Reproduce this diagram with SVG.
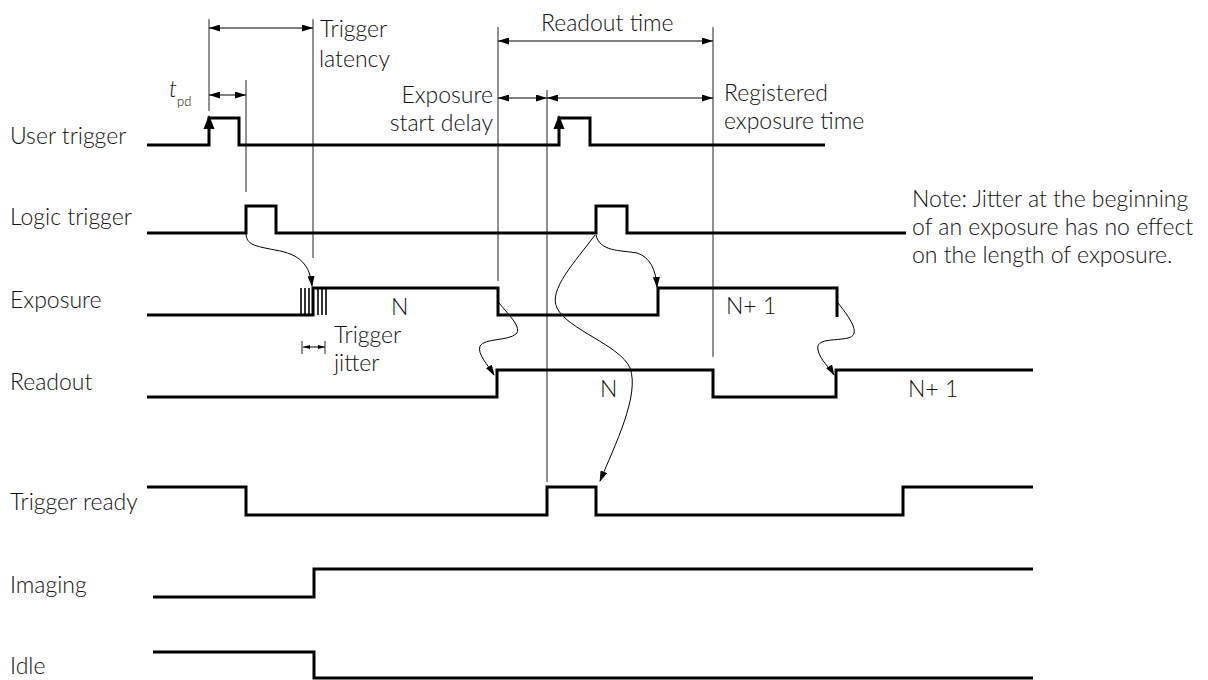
<svg xmlns="http://www.w3.org/2000/svg" width="1208" height="680" viewBox="0 0 1208 680">
<style>
text{font-family:Lato,"Open Sans","Liberation Sans",sans-serif;font-size:23px;font-weight:300;fill:#111}
.sig{fill:none;stroke:#000;stroke-width:3;stroke-linejoin:miter}
.guide{fill:none;stroke:#222;stroke-width:1}
.dim{fill:none;stroke:#000;stroke-width:1;marker-start:url(#dh);marker-end:url(#dh)}
.cur{fill:none;stroke:#000;stroke-width:1;marker-end:url(#ch)}
.jit{stroke:#000;stroke-width:1.6}
</style>
<defs>
<marker id="dh" markerUnits="userSpaceOnUse" markerWidth="11" markerHeight="7" refX="11" refY="3.5" orient="auto-start-reverse"><path d="M0,0 L11,3.5 L0,7 z" fill="#000"/></marker>
<marker id="ch" markerUnits="userSpaceOnUse" markerWidth="11" markerHeight="7" refX="10" refY="3.5" orient="auto"><path d="M0,0 L11,3.5 L0,7 z" fill="#000"/></marker>
</defs>
<rect width="1208" height="680" fill="#fff"/>

<g id="labels">
<text x="10" y="144">User trigger</text>
<text x="10" y="225">Logic trigger</text>
<text x="10" y="308">Exposure</text>
<text x="10" y="390">Readout</text>
<text x="10" y="510">Trigger ready</text>
<text x="10" y="593">Imaging</text>
<text x="10" y="674">Idle</text>
</g>

<g id="guides">
<line class="guide" x1="209" y1="19" x2="209" y2="111"/>
<line class="guide" x1="246" y1="80" x2="246" y2="192"/>
<line class="guide" x1="313" y1="19" x2="313" y2="258"/>
<line class="guide" x1="498" y1="27" x2="498" y2="281"/>
<line class="guide" x1="547" y1="90" x2="547" y2="482"/>
<line class="guide" x1="713" y1="27" x2="713" y2="357"/>
</g>

<g id="user-trigger">
<path class="sig" d="M147,145 H209 V118 H239 V145 H559 V118 H590 V145 H825"/>
<polygon points="209,115 203.5,129 214.5,129" fill="#000"/>
<polygon points="559,115 553.5,129 564.5,129" fill="#000"/>
</g>

<g id="logic-trigger">
<path class="sig" d="M147,233 H246 V206 H276 V233 H596 V206 H627 V233 H906"/>
</g>

<g id="exposure">
<path class="sig" d="M147,315 H313 V288 H498 V315 H658 V288 H837 V317"/>
<line class="jit" x1="301" y1="288" x2="301" y2="315"/>
<line class="jit" x1="305" y1="288" x2="305" y2="315"/>
<line class="jit" x1="309" y1="288" x2="309" y2="315"/>
<line class="jit" x1="318" y1="288" x2="318" y2="315"/>
<line class="jit" x1="322" y1="288" x2="322" y2="315"/>
<line class="jit" x1="326" y1="288" x2="326" y2="315"/>
<text x="391" y="315">N</text>
<text x="726" y="314">N+ 1</text>
</g>

<g id="readout">
<path class="sig" d="M147,397 H497 V370 H713 V397 H836 V370 H1033"/>
<text x="600" y="397">N</text>
<text x="908" y="397">N+ 1</text>
</g>

<g id="trigger-ready">
<path class="sig" d="M147,487 H246 V515 H547 V487 H596 V515 H903 V487 H1033"/>
</g>

<g id="imaging">
<path class="sig" d="M153,597 H314 V569 H1033"/>
</g>

<g id="idle">
<path class="sig" d="M153,652 H314 V678 H1033"/>
</g>

<g id="dimensions">
<line class="dim" x1="209" y1="28" x2="313" y2="28"/>
<line class="dim" x1="209" y1="95" x2="246" y2="95"/>
<line class="dim" x1="498" y1="41" x2="713" y2="41"/>
<line class="dim" x1="498" y1="98" x2="547" y2="98"/>
<line class="dim" x1="547" y1="98" x2="713" y2="98"/>
<line x1="303" y1="347" x2="325" y2="347" stroke="#000" stroke-width="1"/>
<polygon points="303,347 310,345 310,349" fill="#000"/>
<polygon points="325,347 318,345 318,349" fill="#000"/>
<line class="guide" x1="302" y1="341" x2="302" y2="354"/>
<line class="guide" x1="325" y1="341" x2="325" y2="354"/>
</g>

<g id="dimension-labels">
<text x="320" y="37">Trigger</text>
<text x="319" y="67">latency</text>
<text x="169" y="97" font-style="italic">t</text>
<text x="177" y="106" style="font-size:13px">pd</text>
<text x="493" y="103" text-anchor="end">Exposure</text>
<text x="493" y="131" text-anchor="end">start delay</text>
<text x="541" y="31">Readout time</text>
<text x="724" y="101">Registered</text>
<text x="724" y="129">exposure time</text>
<text x="334" y="343">Trigger</text>
<text x="334" y="371">jitter</text>
</g>

<g id="note">
<text x="912" y="207">Note: Jitter at the beginning</text>
<text x="912" y="235">of an exposure has no effect</text>
<text x="912" y="263">on the length of exposure.</text>
</g>

<g id="connectors">
<path class="cur" d="M246,233 C246,245 255,246 275,250 C300,254 310,265 312,286"/>
<path class="cur" d="M499,303 C510,316 522,328 516,334 C508,341 485,338 480,346 C477,354 488,365 494,375"/>
<path class="cur" d="M596,235 C600,252 620,250 637,253 C650,257 656,270 657,287"/>
<path class="cur" d="M595,235 C575,262 548,290 557,308 C568,330 620,345 630,368 C640,395 615,445 600,481"/>
<path class="cur" d="M838,303 C850,318 862,335 848,338 C835,341 815,338 818,350 C820,360 830,368 834,375"/>
</g>
</svg>
